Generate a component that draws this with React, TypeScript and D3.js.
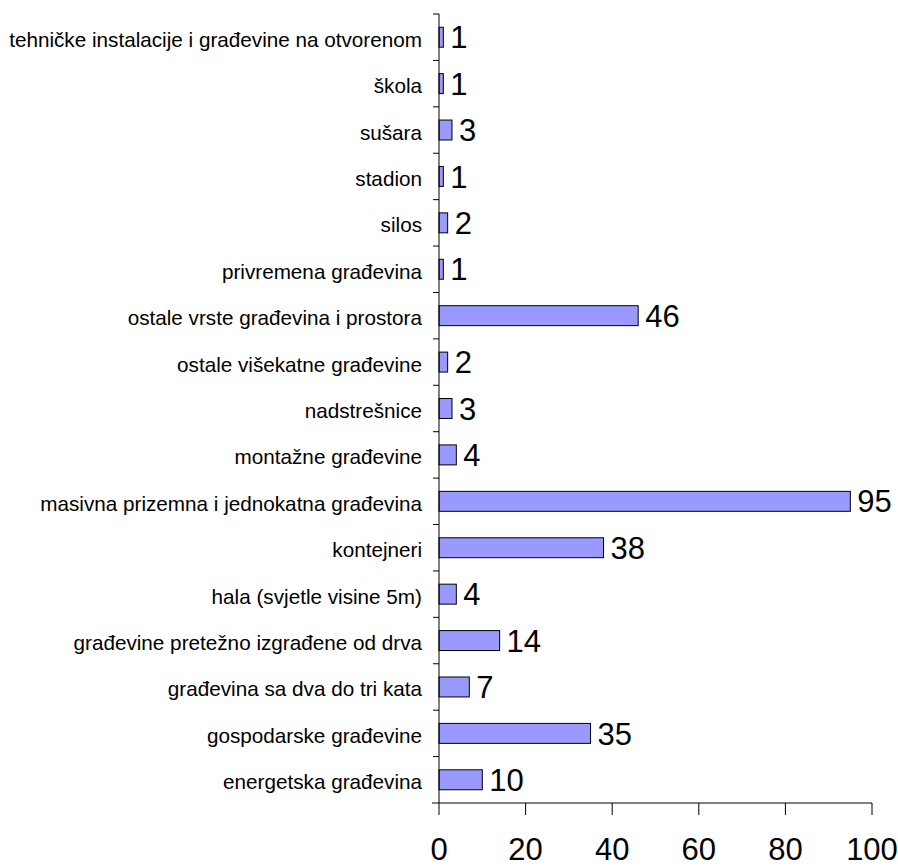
import { scaleBand, scaleLinear } from "d3";

const categories = [
    "tehničke instalacije i građevine na otvorenom",
    "škola",
    "sušara",
    "stadion",
    "silos",
    "privremena građevina",
    "ostale vrste građevina i prostora",
    "ostale višekatne građevine",
    "nadstrešnice",
    "montažne građevine",
    "masivna prizemna i jednokatna građevina",
    "kontejneri",
    "hala (svjetle visine 5m)",
    "građevine pretežno izgrađene od drva",
    "građevina sa dva do tri kata",
    "gospodarske građevine",
    "energetska građevina"
];

const values = [1, 1, 3, 1, 2, 1, 46, 2, 3, 4, 95, 38, 4, 14, 7, 35, 10];

const xTicks = [0, 20, 40, 60, 80, 100];

const font = "Arial, 'Liberation Sans', sans-serif";

export default function App() {
    const left = 439;
    const right = 872;
    const top = 14;
    const bottom = 803;

    const x = scaleLinear().domain([0, 100]).range([left, right]);
    const y = scaleBand<string>()
        .domain(categories)
        .range([top, bottom])
        .paddingInner(0.57)
        .paddingOuter(0.285);
    const step = y.step();
    const bandStart = (c: string) => y(c)! - y.paddingInner() * step / 2;

    return (
        <svg
            width={898}
            height={866}
            style={{ position: "absolute", left: 0, top: 0, background: "#fff" }}
        >
            {categories.map((c, i) => {
                const cy = y(c)! + y.bandwidth() / 2;
                return (
                    <g key={`bar-${i}`}>
                        <rect
                            x={x(0)}
                            y={y(c)}
                            width={x(values[i]) - x(0)}
                            height={y.bandwidth()}
                            fill="#9999ff"
                            stroke="#000"
                            strokeWidth={1}
                        />
                        <text
                            x={x(values[i]) + 7}
                            y={cy}
                            dy="0.36em"
                            fontFamily={font}
                            fontSize={31}
                            fill="#000"
                        >
                            {values[i]}
                        </text>
                        <text
                            x={422}
                            y={cy}
                            dy="0.46em"
                            textAnchor="end"
                            fontFamily={font}
                            fontSize={20.7}
                            fill="#000"
                        >
                            {c}
                        </text>
                        <line
                            x1={left - 6}
                            x2={left}
                            y1={bandStart(c)}
                            y2={bandStart(c)}
                            stroke="#000"
                        />
                    </g>
                );
            })}
            <line x1={left} x2={left} y1={top} y2={bottom} stroke="#000" />
            <line x1={left - 7} x2={right} y1={bottom} y2={bottom} stroke="#000" />
            {xTicks.map((t) => (
                <g key={`xt-${t}`}>
                    <line x1={x(t)} x2={x(t)} y1={bottom} y2={bottom + 12} stroke="#000" />
                    <text
                        x={x(t)}
                        y={860}
                        textAnchor="middle"
                        fontFamily={font}
                        fontSize={31}
                        fill="#000"
                    >
                        {t}
                    </text>
                </g>
            ))}
        </svg>
    );
}
